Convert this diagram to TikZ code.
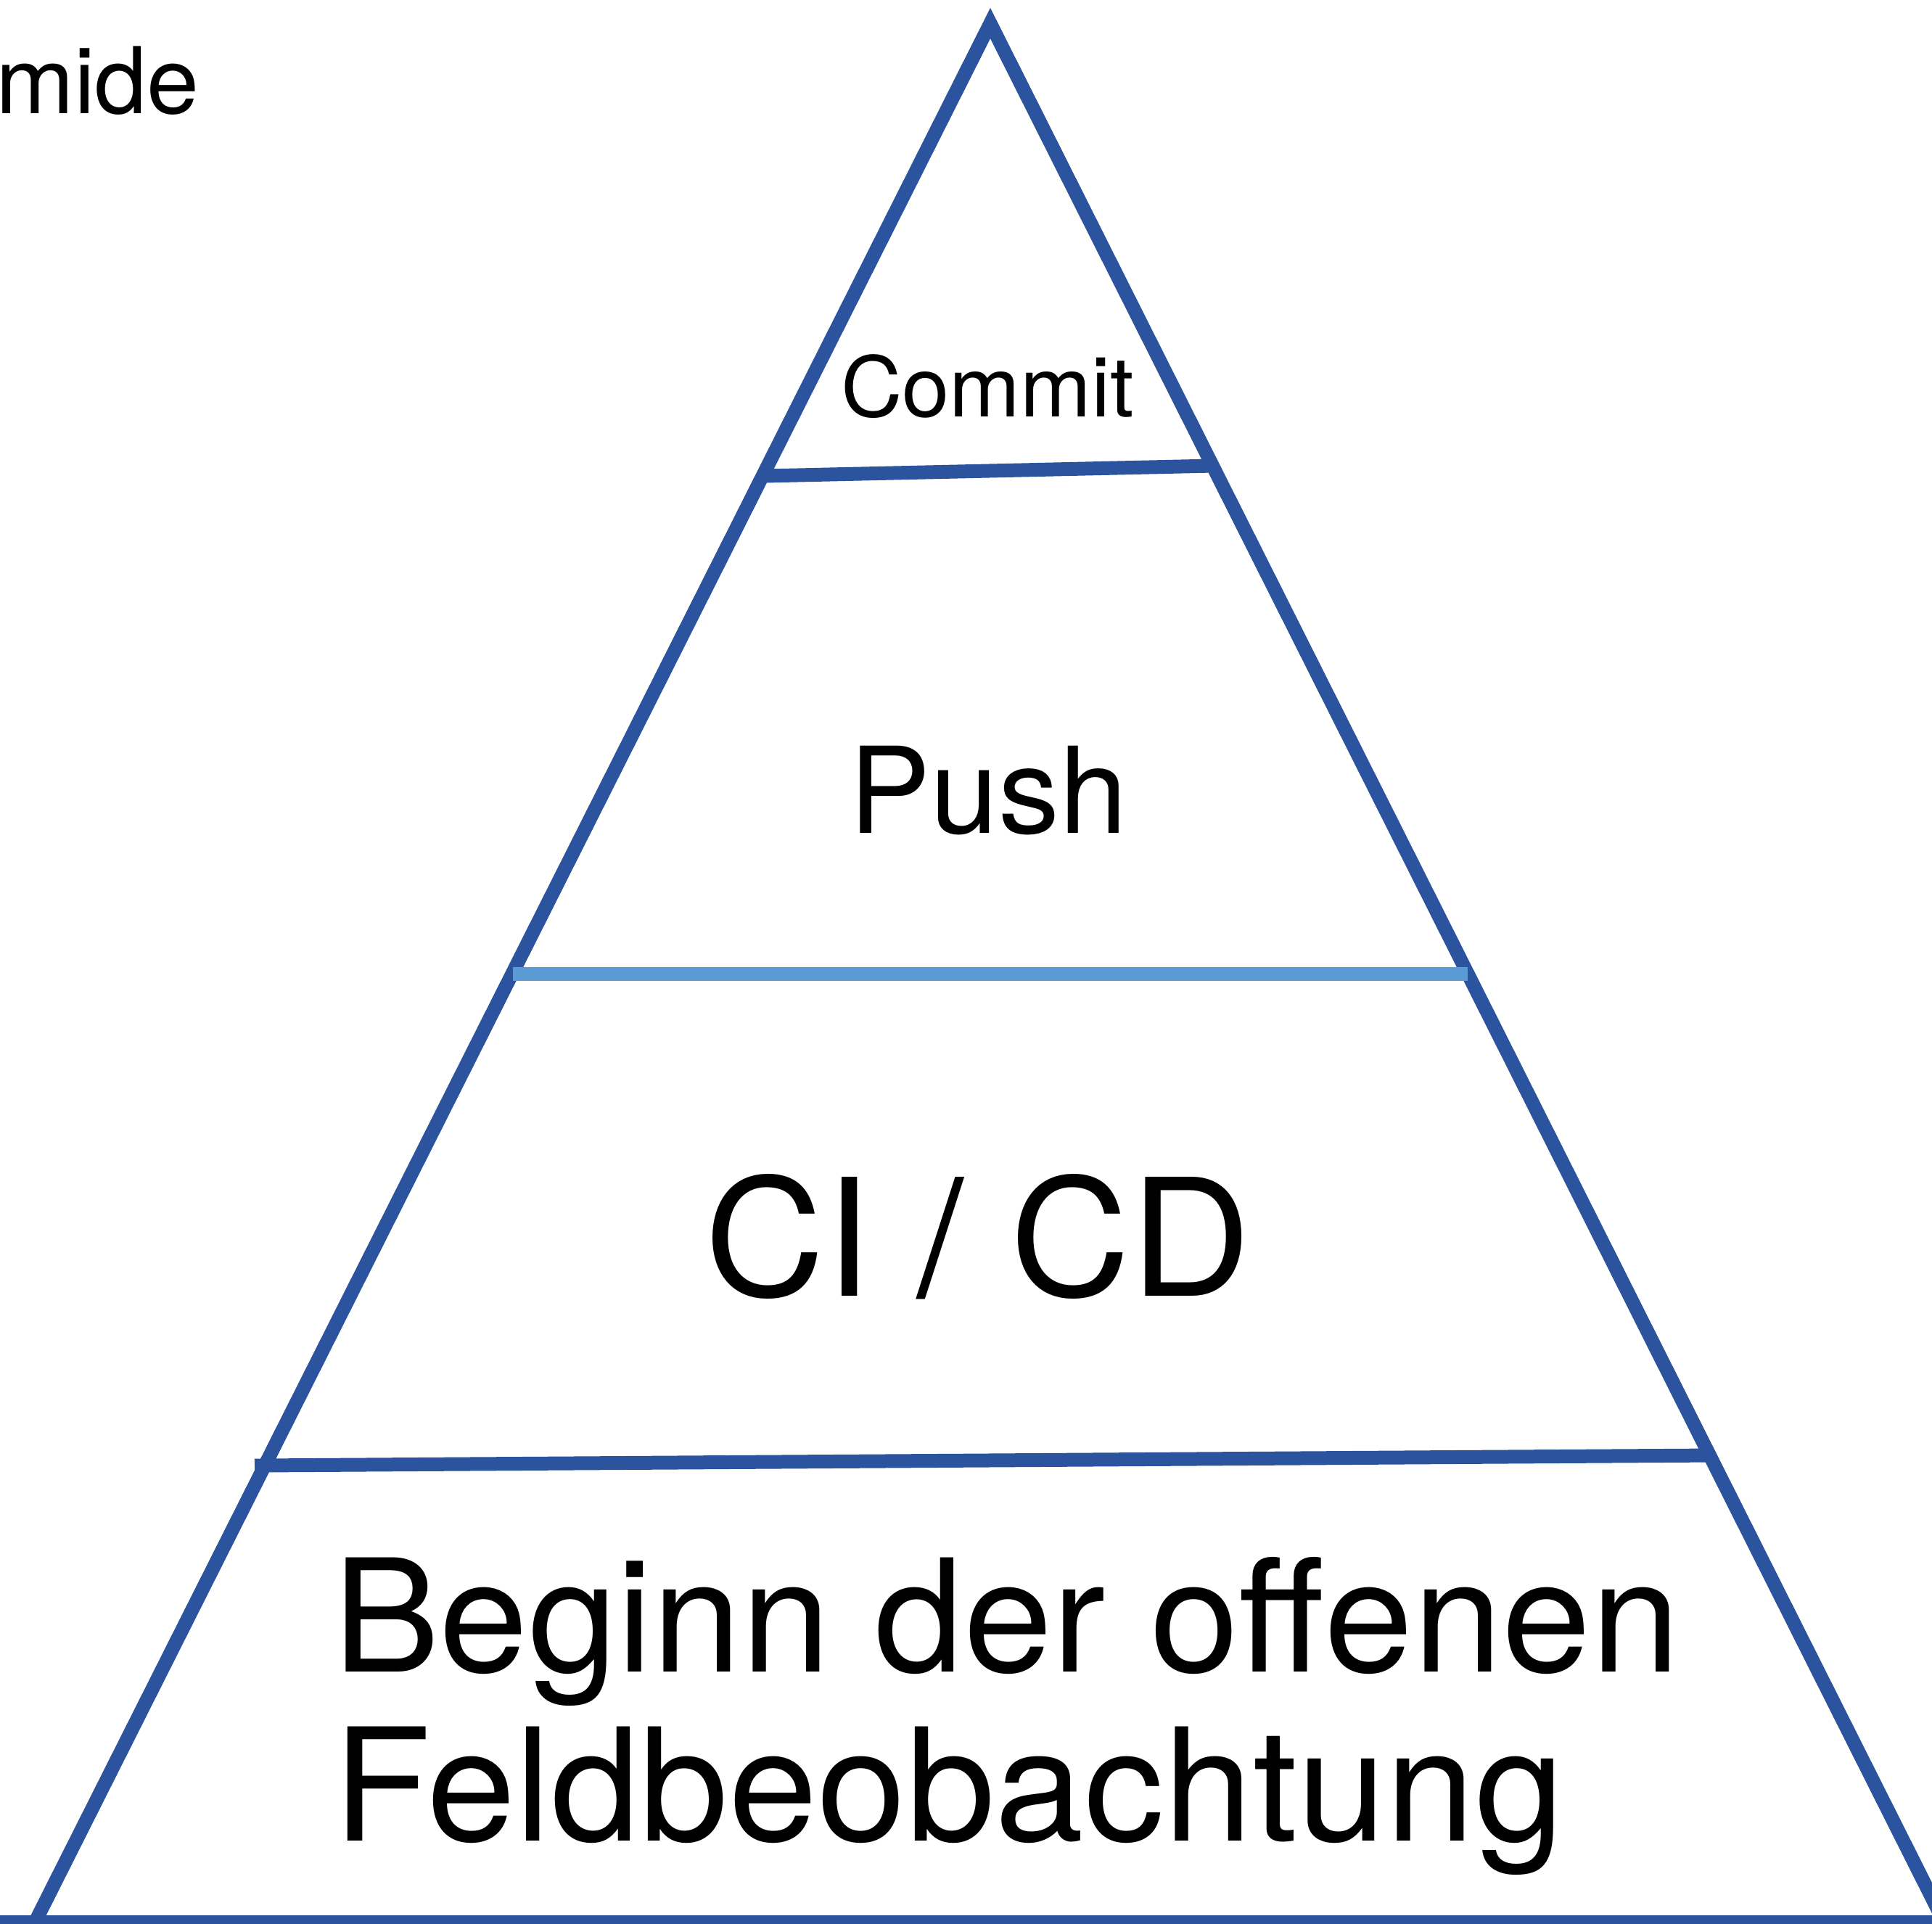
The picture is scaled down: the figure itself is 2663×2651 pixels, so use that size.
\documentclass[tikz,border=0pt]{standalone}
\usepackage{fontspec}
\setmainfont{TeX Gyre Heros}[FakeStretch=1.02]
\definecolor{darkblue}{RGB}{44,84,158}
\definecolor{lightblue}{RGB}{91,155,213}
\tikzset{
  side/.style={draw=darkblue, line width=1.9pt, line join=miter},
  tier/.style={draw=darkblue, line width=1.9pt},
  tierlight/.style={draw=lightblue, line width=1.9pt},
  label/.style={inner sep=0pt, text=black, anchor=base},
}
\begin{document}
\begin{tikzpicture}[x=0.1pt,y=-0.1pt]
\useasboundingbox (0,0) rectangle (2663,2651);
\fill[white] (0,0) rectangle (2663,2651);
% pyramid outline
\coordinate (apex) at (1365,32);
\coordinate (bl) at (48,2650);
\coordinate (br) at (2680,2650);
\draw[side] (bl) -- (apex) -- (br);
\draw[side, line width=2pt] (0,2650) -- (2663,2650);
% tier lines
\coordinate (c1) at (1053,656);
\coordinate (c2) at (1670,642);
\draw[tier] (c1) -- (c2);
\coordinate (p1) at (707,1342);
\coordinate (p2) at (2023,1342);
\draw[tierlight] (p1) -- (p2);
\coordinate (d1) at (351,2020);
\coordinate (d2) at (2354,2006);
\draw[tier] (d1) -- (d2);
% texts
\node[inner sep=0pt, anchor=base east] (title) at (277,156) {\fontsize{12.7}{15}\selectfont mide};
\node[label] (commit) at (1361,574) {\fontsize{11.5}{14}\selectfont Commit};
\node[label] (push) at (1362,1148) {\fontsize{16.5}{20}\selectfont Push};
\node[label] (cicd) at (1348,1786) {\fontsize{22.5}{27}\selectfont CI / CD};
\node[inner sep=0pt, anchor=base west] (beginn) at (457,2304) {\fontsize{21.6}{23.3}\selectfont Beginn der offenen};
\node[inner sep=0pt, anchor=base west] (feld) at (457,2537) {\fontsize{21.6}{23.3}\selectfont Feldbeobachtung};
\end{tikzpicture}
\end{document}
